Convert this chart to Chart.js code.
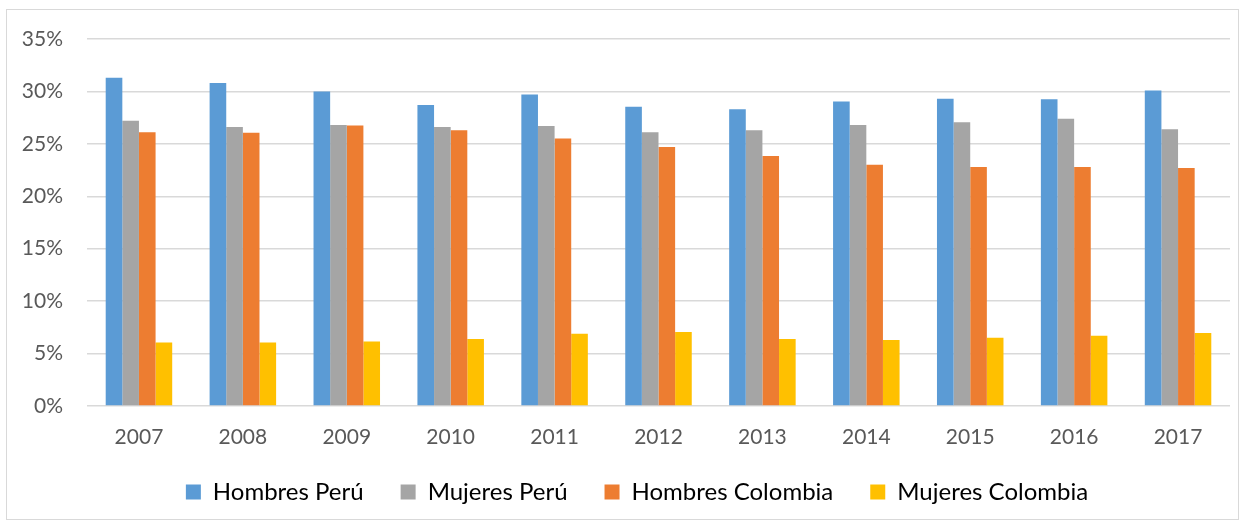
<!DOCTYPE html>
<html>
<head>
<meta charset="utf-8">
<script src="https://cdn.jsdelivr.net/npm/chart.js@4.4.1/dist/chart.umd.min.js"></script>
<style>
  html, body { margin: 0; padding: 0; background: #ffffff; }
  #frame { position: absolute; left: 6px; top: 9px; width: 1233px; height: 511px; border: 1px solid #d9d9d9; box-sizing: border-box; }
  #wrap { position: absolute; left: 0; top: 0; width: 1246px; height: 524px; }
</style>
</head>
<body>
<div id="frame"></div>
<div id="wrap"><canvas id="c" width="1246" height="524"></canvas></div>
<script>
const categories = ['2007','2008','2009','2010','2011','2012','2013','2014','2015','2016','2017'];
const hombresPeru    = [31.3, 30.8, 30.0, 28.7, 29.7, 28.55, 28.3, 29.05, 29.3, 29.25, 30.1];
const mujeresPeru    = [27.2, 26.6, 26.8, 26.6, 26.7, 26.1, 26.3, 26.8, 27.05, 27.4, 26.4];
const hombresColombia= [26.1, 26.05, 26.75, 26.3, 25.5, 24.7, 23.85, 23.0, 22.8, 22.8, 22.7];
const mujeresColombia= [6.05, 6.05, 6.15, 6.4, 6.9, 7.05, 6.4, 6.3, 6.5, 6.7, 6.95];
const seriesNames = ['Hombres Perú','Mujeres Perú','Hombres Colombia','Mujeres Colombia'];
const seriesColors = ['#5b9bd5','#a5a5a5','#ed7d31','#ffc000'];
const yTicks = [0,5,10,15,20,25,30,35];

const allSeries = [hombresPeru, mujeresPeru, hombresColombia, mujeresColombia];
const datasets = allSeries.map((d, i) => ({
  label: seriesNames[i],
  data: d,
  backgroundColor: seriesColors[i],
  borderWidth: 0,
  categoryPercentage: 0.64,
  barPercentage: 1.0
}));

// The legend uses wide horizontal item spacing (labels.padding), which also
// adds vertical space; draw it from a raised top so its row sits low enough.
const legendShift = {
  id: 'legendShift',
  afterInit(chart) {
    const lg = chart.legend;
    if (!lg) return;
    const orig = lg.draw.bind(lg);
    lg.draw = function () {
      const t = this.top, l = this.left, r = this.right;
      this.top = t - 29;
      this.left = l + 22;
      this.right = r + 22;
      orig();
      this.top = t; this.left = l; this.right = r;
    };
  }
};

new Chart(document.getElementById('c'), {
  type: 'bar',
  data: { labels: categories, datasets },
  plugins: [legendShift],
  options: {
    responsive: false,
    animation: false,
    events: [],
    layout: { padding: { top: 39, right: 16, bottom: 12, left: 0 } },
    plugins: {
      tooltip: { enabled: false },
      legend: {
        position: 'bottom',
        maxHeight: 40,
        labels: {
          font: { family: 'Lato', size: 24 },
          color: '#000000',
          boxWidth: 15,
          boxHeight: 15,
          padding: 37
        }
      }
    },
    scales: {
      x: {
        grid: { display: false, drawTicks: false },
        border: { display: false },
        ticks: { font: { family: 'Lato', size: 21 }, color: '#595959', padding: 19 },
        afterFit: (s) => { s.height = 66; }
      },
      y: {
        min: 0, max: 35,
        afterBuildTicks: (s) => { s.ticks = yTicks.map(v => ({ value: v })); },
        grid: { color: '#d9d9d9', lineWidth: 1.5, drawTicks: false },
        border: { display: false },
        ticks: {
          font: { family: 'Lato', size: 21 },
          color: '#595959',
          padding: 24,
          callback: (v) => v + '%'
        },
        afterFit: (s) => { s.width = 87; }
      }
    }
  }
});
</script>
</body>
</html>
